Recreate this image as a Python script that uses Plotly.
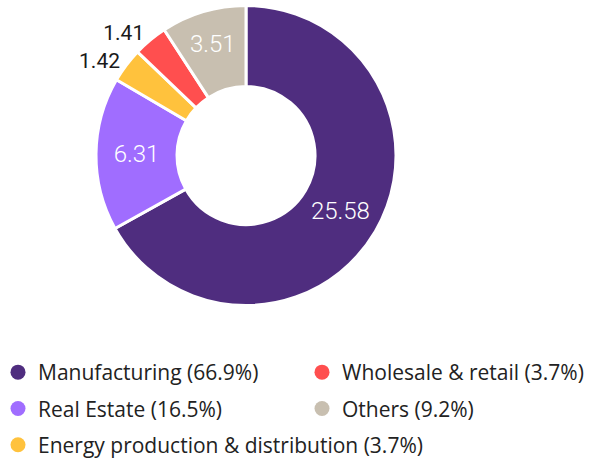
import plotly.graph_objects as go

categories = ["Manufacturing", "Real Estate", "Energy production & distribution", "Wholesale & retail", "Others"]
values = [25.58, 6.31, 1.42, 1.41, 3.51]
colors = ["#4f2d7f", "#a06dff", "#ffc23d", "#ff4f4f", "#c8bfb0"]
text_positions = ["inside", "inside", "outside", "outside", "inside"]
legend_col1 = ["Manufacturing", "Real Estate", "Energy production & distribution"]
legend_col2 = ["Wholesale & retail", "Others"]

total = sum(values)
pct = {c: v / total * 100 for c, v in zip(categories, values)}
col = dict(zip(categories, colors))

fig = go.Figure()
fig.add_trace(go.Pie(
    labels=categories, values=values, sort=False, direction="clockwise", rotation=0,
    hole=0.46, marker=dict(colors=colors, line=dict(color="white", width=3)),
    textinfo="value", textposition=text_positions,
    insidetextorientation="horizontal",
    insidetextfont=dict(color="white", size=24, family="Roboto", weight=300),
    outsidetextfont=dict(color="#1a1a1a", size=21, family="Roboto", weight=400),
    showlegend=False, hoverinfo="label+value",
    domain=dict(x=[(246 - 150) / 590, (246 + 150) / 590], y=[1 - 306 / 460, 1 - 5 / 460]),
))
for legend_name, names in (("legend", legend_col1), ("legend2", legend_col2)):
    for c in names:
        fig.add_trace(go.Scatter(
            x=[None], y=[None], mode="markers", name=f"{c} ({pct[c]:.1f}%)",
            legend=legend_name, legendgroup=c,
            marker=dict(color=col[c], size=15, symbol="circle"),
        ))

legend_style = dict(orientation="v", yanchor="top", xanchor="left", itemwidth=30,
                    font=dict(family="Open Sans", size=21, color="#222222"),
                    tracegroupgap=6, bgcolor="rgba(0,0,0,0)")
fig.update_layout(
    width=590, height=460, margin=dict(l=0, r=0, t=0, b=0, autoexpand=False),
    paper_bgcolor="white", plot_bgcolor="white",
    xaxis=dict(visible=False), yaxis=dict(visible=False),
    legend=dict(x=-2 / 590, y=1 - 352 / 460, **legend_style),
    legend2=dict(x=302 / 590, y=1 - 352 / 460, **legend_style),
)
fig.write_html("out.html", config={"displayModeBar": False},
               post_script="document.body.style.margin='0px';")
